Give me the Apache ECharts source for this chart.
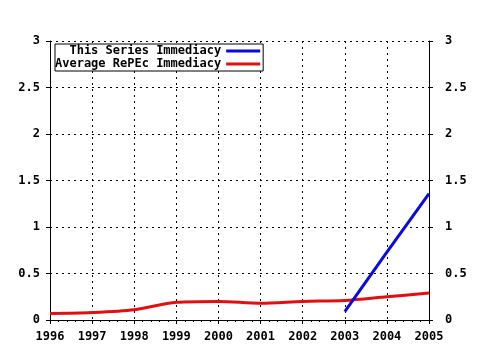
<!DOCTYPE html>
<html><head><meta charset="utf-8">
<script src="https://cdn.jsdelivr.net/npm/echarts@6/dist/echarts.min.js"></script>
<style>html,body{margin:0;padding:0;background:#fff}#c{width:480px;height:350px}</style>
</head><body><div id="c"></div>
<script>
const years = [1996, 1997, 1998, 1999, 2000, 2001, 2002, 2003, 2004, 2005];
const averageRepec = [0.07, 0.08, 0.11, 0.19, 0.20, 0.18, 0.20, 0.21, 0.25, 0.29];
const seriesYears = [2003, 2004, 2005];
const seriesImmediacy = [0.09, 0.73, 1.36];
const yTicks = [0, 0.5, 1, 1.5, 2, 2.5, 3];

const FONT = '"DejaVu Sans Mono", monospace';
const chart = echarts.init(document.getElementById('c'));
const axisCommon = {
  axisLine: {show: true, lineStyle: {color: '#000', width: 1}},
  axisTick: {show: true, length: 4, lineStyle: {color: '#000'}},
};
chart.setOption({
  animation: false,
  backgroundColor: '#fff',
  grid: {left: 50, right: 51, top: 41, bottom: 30},
  legend: {
    orient: 'vertical', left: 55, top: 44, align: 'right',
    backgroundColor: '#fff', borderColor: '#000', borderWidth: 1,
    padding: [1, 3, 1, 0], itemGap: 1, itemWidth: 34, itemHeight: 3,
    icon: 'rect',
    textStyle: {fontFamily: FONT, fontWeight: 'bold', fontSize: 12, color: '#000', width: 166, align: 'right', padding: [0, 0, 0, 0]},
    data: ['This Series Immediacy', 'Average RePEc Immediacy']
  },
  xAxis: [{
    type: 'value', min: 1996, max: 2005, interval: 1, position: 'bottom',
    ...axisCommon,
    minorTick: {show: true, splitNumber: 5, length: 2, lineStyle: {color: '#000'}},
    axisLabel: {fontFamily: FONT, fontWeight: 'bold', fontSize: 12, color: '#000', margin: 11,
      formatter: v => String(v)},
    splitLine: {show: true, lineStyle: {color: '#000', type: [2, 4], width: 1}}
  }, {
    type: 'value', min: 1996, max: 2005, interval: 1, position: 'top',
    ...axisCommon,
    axisTick: {show: true, inside: true, length: 3, lineStyle: {color: '#000'}},
    minorTick: {show: false},
    axisLabel: {show: false}, splitLine: {show: false}
  }],
  yAxis: [{
    type: 'value', min: 0, max: 3, interval: 0.5, position: 'left',
    ...axisCommon,
    axisLabel: {fontFamily: FONT, fontWeight: 'bold', fontSize: 12, color: '#000', margin: 10,
      formatter: v => yTicks.includes(v) ? String(v) : ''},
    splitLine: {show: true, lineStyle: {color: '#000', type: [2, 4], width: 1}}
  }, {
    type: 'value', min: 0, max: 3, interval: 0.5, position: 'right',
    ...axisCommon,
    axisLabel: {fontFamily: FONT, fontWeight: 'bold', fontSize: 12, color: '#000', margin: 16,
      formatter: v => String(v)},
    splitLine: {show: false}
  }],
  series: [{
    name: 'This Series Immediacy', type: 'line', showSymbol: false, z: 3,
    color: '#0a0ae0', lineStyle: {width: 3, color: '#0a0ae0'},
    data: seriesYears.map((y, i) => [y, seriesImmediacy[i]])
  }, {
    name: 'Average RePEc Immediacy', type: 'line', showSymbol: false, smooth: 0.3, z: 2,
    color: '#e01010', lineStyle: {width: 3, color: '#e01010'},
    data: years.map((y, i) => [y, averageRepec[i]])
  }]
});
</script></body></html>
